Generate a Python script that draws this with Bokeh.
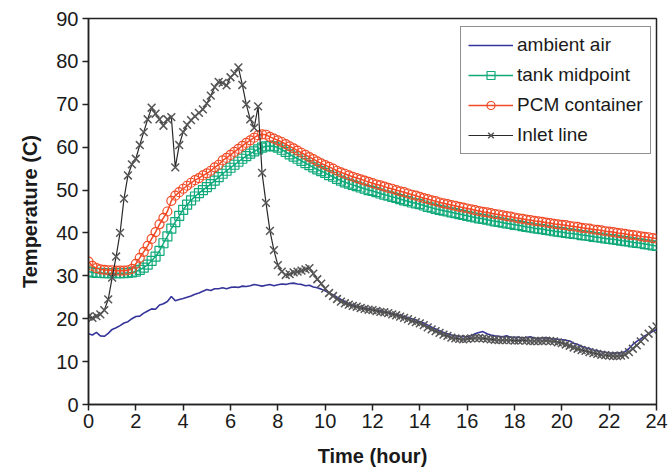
from bokeh.plotting import figure
from bokeh.models import FixedTicker, Range1d, Legend
from bokeh.embed import file_html
from bokeh.resources import INLINE

# time in hours, 10-minute readings
time_h = [i / 6 for i in range(145)]

ambient_air = [
    16.5, 16.2, 16.8, 16.0, 15.9, 16.6,
    17.5, 17.9, 18.4, 19.0, 19.3, 20.0,
    20.5, 20.6, 21.3, 21.8, 22.3, 22.2,
    23.2, 23.5, 24.0, 25.2, 24.2, 24.5,
    24.7, 25.0, 25.3, 25.7, 26.0, 26.4,
    26.8, 26.6, 27.0, 27.0, 27.2, 27.0,
    27.3, 27.4, 27.3, 27.6, 27.5, 27.7,
    28.0, 27.8, 27.6, 27.8, 28.0, 27.7,
    27.9, 28.1, 28.0, 28.2, 28.3, 28.1,
    28.0, 27.7, 27.8, 27.4, 27.2, 26.9,
    26.5, 26.0, 25.6, 25.0, 24.5, 24.0,
    23.5, 23.2, 22.9, 22.7, 22.5, 22.4,
    22.2, 22.0, 21.9, 21.6, 21.5, 21.2,
    21.0, 20.8, 20.5, 20.3, 20.0, 19.7,
    19.3, 19.0, 18.5, 18.0, 17.6, 17.2,
    16.8, 16.5, 16.2, 16.0, 15.9, 15.8,
    15.8, 16.0, 16.5, 16.8, 17.0, 16.5,
    16.2, 16.0, 15.9, 15.8, 16.0, 15.7,
    15.6, 15.7, 15.5, 15.6, 15.8, 15.5,
    15.3, 15.5, 15.6, 15.4, 15.3, 15.2,
    15.1, 15.0, 14.8, 14.3, 14.0, 13.6,
    13.2, 13.0, 12.7, 12.5, 12.3, 12.2,
    12.0, 11.9, 12.1, 12.0, 12.3, 13.0,
    14.0, 14.7, 15.3, 16.0, 16.5, 17.0,
    17.5,
]

tank_midpoint = [
    31.0, 30.8, 30.7, 30.7, 30.6, 30.6,
    30.6, 30.6, 30.6, 30.6, 30.7, 30.8,
    31.0, 31.4, 31.9, 32.6, 33.5, 34.5,
    35.8, 37.6, 39.2, 41.0, 42.5, 44.0,
    45.4, 46.6, 47.6, 48.5, 49.3, 50.0,
    50.7, 51.4, 52.2, 53.0, 53.8, 54.5,
    55.2, 55.9, 56.6, 57.3, 57.9, 58.5,
    59.0, 59.5, 59.9, 60.2, 60.3, 60.2,
    59.9, 59.4, 58.9, 58.3, 57.8, 57.3,
    56.8, 56.3, 55.8, 55.3, 54.8, 54.4,
    54.0, 53.5, 53.1, 52.6, 52.2, 51.8,
    51.5, 51.2, 50.9, 50.6, 50.3, 50.0,
    49.8, 49.5, 49.2, 48.9, 48.7, 48.4,
    48.2, 47.9, 47.6, 47.4, 47.1, 46.9,
    46.7, 46.4, 46.1, 45.9, 45.6, 45.4,
    45.2, 45.0, 44.8, 44.6, 44.4, 44.2,
    44.0, 43.8, 43.6, 43.4, 43.3, 43.1,
    42.9, 42.7, 42.6, 42.4, 42.2, 42.1,
    41.9, 41.8, 41.6, 41.4, 41.3, 41.1,
    41.0, 40.9, 40.7, 40.6, 40.4, 40.3,
    40.2, 40.0, 39.9, 39.8, 39.7, 39.5,
    39.4, 39.3, 39.1, 39.0, 38.9, 38.7,
    38.6, 38.5, 38.4, 38.2, 38.1, 38.0,
    37.8, 37.7, 37.6, 37.4, 37.3, 37.1,
    37.0,
]

pcm_container = [
    33.3, 32.3, 31.8, 31.5, 31.4, 31.3,
    31.3, 31.2, 31.2, 31.2, 31.3, 31.6,
    32.8, 34.2, 35.6, 37.0, 38.6, 40.2,
    42.0, 43.5, 45.0, 47.5, 48.7, 49.5,
    50.3, 51.0, 51.7, 52.3, 52.8, 53.4,
    53.9, 54.5, 55.3, 55.9, 56.9, 57.5,
    58.2, 58.9, 59.6, 60.3, 61.0, 61.6,
    62.2, 62.8, 63.0, 62.9, 62.4, 62.0,
    61.6, 61.2, 60.7, 60.2, 59.7, 59.2,
    58.7, 58.2, 57.7, 57.2, 56.7, 56.2,
    55.8, 55.4, 55.0, 54.5, 54.1, 53.8,
    53.4, 53.1, 52.8, 52.5, 52.2, 51.9,
    51.6, 51.3, 51.1, 50.8, 50.5, 50.3,
    50.0, 49.7, 49.5, 49.2, 48.9, 48.7,
    48.4, 48.1, 47.9, 47.6, 47.4, 47.1,
    46.9, 46.7, 46.5, 46.3, 46.1, 45.9,
    45.7, 45.5, 45.3, 45.1, 44.9, 44.8,
    44.6, 44.4, 44.3, 44.1, 43.9, 43.8,
    43.6, 43.4, 43.3, 43.1, 43.0, 42.8,
    42.7, 42.6, 42.4, 42.3, 42.1, 42.0,
    41.9, 41.8, 41.6, 41.5, 41.4, 41.2,
    41.1, 41.0, 40.8, 40.7, 40.6, 40.4,
    40.3, 40.2, 40.0, 39.9, 39.8, 39.6,
    39.5, 39.4, 39.2, 39.1, 39.0, 38.8,
    38.7,
]

inlet_line = [
    20.5, 20.2, 20.6, 21.0, 22.0, 24.5,
    29.6, 34.5, 40.0, 48.0, 53.4, 56.0,
    57.3, 60.5, 63.5, 66.5, 69.2, 67.8,
    66.5, 65.0, 66.5, 67.0, 55.3, 60.5,
    63.5, 65.2, 66.3, 67.2, 68.0, 68.8,
    70.2, 72.0, 74.0, 75.2, 75.0, 74.4,
    76.3, 77.2, 78.6, 74.5, 70.0, 66.5,
    64.5, 69.5, 54.0, 47.0, 40.5, 36.0,
    32.5, 31.0, 30.2, 30.4, 30.8, 31.0,
    31.2, 31.5, 31.8, 30.5, 29.2, 28.2,
    27.0, 26.0, 25.3, 24.6, 24.0, 23.6,
    23.3, 23.0, 22.8, 22.5, 22.3, 22.1,
    22.0, 21.8, 21.6, 21.5, 21.3, 21.0,
    20.8, 20.5, 20.2, 19.9, 19.5, 19.2,
    18.9, 18.5, 18.0, 17.5, 17.1, 16.7,
    16.3, 16.0, 15.6, 15.4, 15.3, 15.2,
    15.3, 15.4, 15.5, 15.5, 15.4, 15.3,
    15.2, 15.1, 15.0, 15.0, 15.0, 15.0,
    14.9, 14.9, 15.0, 14.9, 14.8, 14.8,
    14.8, 14.8, 14.9, 14.8, 14.7, 14.5,
    14.3, 14.0, 13.7, 13.3, 13.0, 12.7,
    12.5, 12.2, 12.0, 11.8, 11.6, 11.5,
    11.4, 11.3, 11.3, 11.4, 11.6, 12.2,
    13.0, 13.8, 14.7, 15.6, 16.5, 17.4,
    18.2,
]

x_ticks = list(range(0, 25, 2))
y_ticks = list(range(0, 91, 10))

FONT = "Liberation Sans"

p = figure(width=668, height=475, output_backend="svg", toolbar_location=None,
           x_range=Range1d(0, 24), y_range=Range1d(0, 90),
           min_border_left=88, min_border_right=12, min_border_top=18,
           min_border_bottom=71)

p.background_fill_color = "white"
p.border_fill_color = "white"
p.outline_line_color = "#222222"
p.outline_line_width = 1.5
p.xgrid.visible = False
p.ygrid.visible = False

for ax, ticks in ((p.xaxis[0], x_ticks), (p.yaxis[0], y_ticks)):
    ax.ticker = FixedTicker(ticks=ticks)
    ax.minor_tick_line_color = None
    ax.major_tick_in = 0
    ax.major_tick_out = 6
    ax.major_tick_line_color = "#222222"
    ax.major_tick_line_width = 1.5
    ax.axis_line_color = "#222222"
    ax.axis_line_width = 1.5
    ax.major_label_text_font = FONT
    ax.major_label_text_font_size = "20px"
    ax.major_label_text_color = "#1a1a1a"
    ax.axis_label_text_font = FONT
    ax.axis_label_text_font_size = "20px"
    ax.axis_label_text_font_style = "bold"
    ax.axis_label_text_color = "#1a1a1a"

p.xaxis.axis_label = "Time (hour)"
p.yaxis.axis_label = "Temperature (C)"
p.xaxis.major_label_standoff = 3
p.yaxis.major_label_standoff = 4
p.xaxis.axis_label_standoff = 14
p.yaxis.axis_label_standoff = 12

BLUE = "#35349a"
GREEN = "#10a97a"
RED = "#f04a26"
DARK = "#2a2a2a"
GREY = "#555555"

r_amb = p.line(time_h, ambient_air, line_color=BLUE, line_width=1.6)

r_tank_l = p.line(time_h, tank_midpoint, line_color=GREEN, line_width=1.5)
r_tank_m = p.scatter(time_h, tank_midpoint, marker="square", size=9,
                     line_color=GREEN, fill_color=None, line_width=1.2)

r_pcm_l = p.line(time_h, pcm_container, line_color=RED, line_width=1.5)
r_pcm_m = p.scatter(time_h, pcm_container, marker="circle", size=9,
                    line_color=RED, fill_color=None, line_width=1.2)

r_in_l = p.line(time_h, inlet_line, line_color=DARK, line_width=1.2)
r_in_m = p.scatter(time_h, inlet_line, marker="x", size=11,
                   line_color=GREY, line_width=1.5)

legend = Legend(items=[
    ("ambient air", [r_amb]),
    ("tank midpoint", [r_tank_l, r_tank_m]),
    ("PCM container", [r_pcm_l, r_pcm_m]),
    ("Inlet line", [r_in_l, r_in_m]),
], location=(372, 250))
legend.label_text_font = FONT
legend.label_text_font_size = "19px"
legend.label_text_color = "#1a1a1a"
legend.glyph_width = 45
legend.glyph_height = 20
legend.label_height = 20
legend.spacing = 8
legend.padding = 7
legend.margin = 0
legend.label_standoff = 4
legend.border_line_color = "#222222"
legend.border_line_width = 1.5
legend.background_fill_alpha = 1.0
p.add_layout(legend, "center")

html = file_html(p, INLINE)
open("out.html", "w").write(html)
